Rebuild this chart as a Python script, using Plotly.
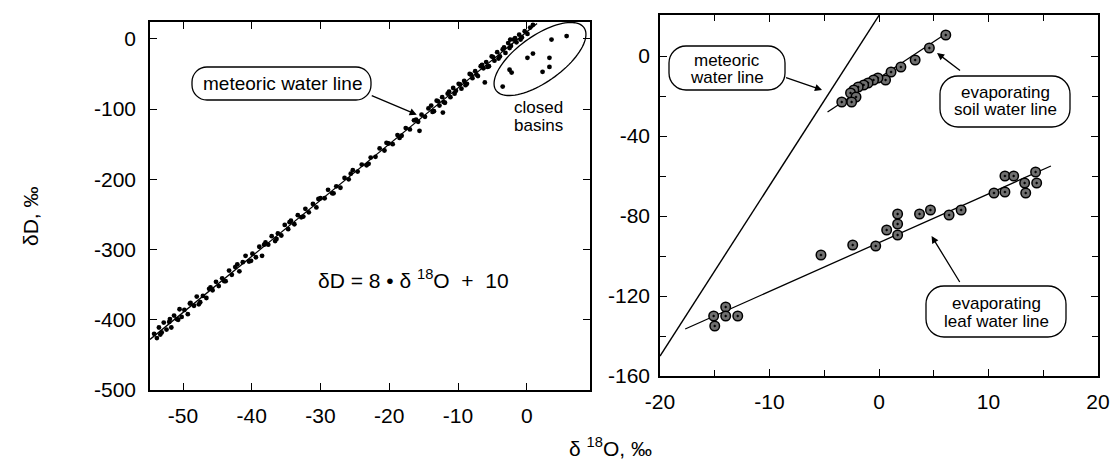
import math
import plotly.graph_objects as go

W, H = 1112, 461
FONT = "Liberation Sans, Arial, Helvetica, sans-serif"

# ---------------- data: left panel (global meteoric water line) ----------------
left_line_x = [-54.8, 1.5]
left_line_y = [-428, 22]

left_pts_x = [
    -54.2, -53.8, -53.5, -53.1, -52.8, -52.4, -52.0, -51.7, -51.3, -50.9, -50.5, -50.2, -49.8,
    -49.3, -48.9, -48.4, -48.0, -47.5, -47.1, -46.6, -46.2, -45.7, -45.2, -44.8, -44.3,
    -43.8, -43.3, -42.9, -42.4, -41.8, -41.3, -40.9, -40.4, -39.9, -39.4, -38.9, -38.5, -38.0,
    -37.6, -37.1, -36.6, -36.2, -35.7, -35.2, -34.7, -34.3,
    -33.8, -33.3, -32.8, -32.2, -31.7, -31.1, -30.6, -30.0, -29.4, -28.9, -28.3, -27.7, -27.1,
    -26.5, -25.9, -25.3, -24.6, -24.0,
    -23.3, -22.7, -22.0, -21.4, -20.7, -20.1, -19.5, -18.8, -18.2, -17.6, -17.0, -16.4, -15.8,
    -15.3, -14.8, -14.3,
    -13.9, -13.5, -13.1, -12.7, -12.3, -11.9, -11.5, -11.1, -10.7, -10.3, -9.9, -9.5, -9.1,
    -8.7, -8.3, -7.9, -7.5, -7.1, -6.7, -6.3, -5.9, -5.5, -5.1, -4.7, -4.3, -3.9, -3.5, -3.1,
    -2.7, -2.3, -1.9, -1.5, -1.1, -0.7, -0.3, 0.1, 0.5, 0.9,
    -13.7, -12.9, -12.1, -11.3, -10.5, -9.7, -8.9, -8.1, -7.3, -6.5, -5.7, -4.9, -4.1, -3.3,
    -2.5, -1.7, -0.9,
    -53.3, -51.9, -50.7, -49.0, -47.7, -46.0, -44.0, -42.1, -40.1, -38.2, -36.4, -34.5, -32.5,
    -30.3, -28.1, -25.6, -23.0, -20.4, -18.5, -16.1,
]
left_pts_y = [
    -420, -426, -411, -418, -404, -414, -403, -411, -394, -399, -385, -396, -386,
    -392, -376, -380, -367, -375, -366, -369, -356, -358, -346, -352, -341,
    -345, -330, -336, -325, -331, -318, -309, -317, -306, -311, -296, -309, -290,
    -293, -281, -288, -277, -280, -265, -271, -259,
    -264, -251, -254, -242, -247, -235, -240, -227, -227, -215, -220, -210, -212,
    -198, -200, -187, -189, -179,
    -180, -169, -168, -156, -159, -149, -150, -137, -138, -127, -129, -116, -118,
    -108, -111, -99,
    -95, -103, -88, -95, -83, -91, -78, -83, -70, -74, -64, -71, -60,
    -64, -50, -56, -46, -53, -39, -42, -33, -39, -25, -31, -19, -25, -15, -20,
    -6, -10, -1, -5, 6, 2, 11, 7, 16, 20,
    -104, -89, -90, -75, -78, -65, -66, -51, -51, -37, -40, -26, -28, -12,
    -13, 1, -1,
    -421, -399, -400, -377, -378, -354, -345, -321, -316, -293, -285, -261, -253,
    -228, -220, -192, -178, -148, -141, -115,
]
off_line_x = [-12.2, -15.6, -2.4]
off_line_y = [-105, -131, -1]

closed_basin_x = [3.6, 0.9, 0.1, 3.3, 3.3, 2.3, -2.5, -2.2, -3.5, -6.1, 5.8]
closed_basin_y = [-1, -21, -27, -27, -40, -47, -44, -48, -68, -62, 4]

# ---------------- data: right panel (evaporation lines) ----------------
right_mwl_x = [-20, 0.2]
right_mwl_y = [-150, 22]

soil_x = [6.1, 4.6, 3.3, 2.0, 1.1, 0.6, -0.1, -0.5, -1.0, -1.4, -1.9, -2.3, -2.6, -2.1, -2.5, -3.4]
soil_y = [10.5, 4, -2, -5.5, -8, -12, -11, -12, -13.5, -14.5, -15.5, -17, -18.5, -20.5, -23, -23]
soil_line_x = [-4.7, 6.2]
soil_line_y = [-28, 11.5]

leaf_x = [-15.1, -15.0, -14.0, -14.0, -12.9, -5.3, -2.4, -0.3, 0.7, 1.7, 1.7, 1.7, 3.7, 4.7,
          6.4, 7.5, 10.5, 11.5, 11.5, 12.3, 13.4, 13.3, 14.3, 14.4]
leaf_y = [-130, -135, -125.5, -130, -130, -99.5, -94.5, -95, -87, -79, -84, -89.5, -79, -77,
          -79.5, -77, -68.5, -68, -60, -60, -68.5, -63.5, -58, -63.5]
leaf_line_x = [-17.7, 15.7]
leaf_line_y = [-136.5, -55]

# ---------------- tick labels ----------------
left_xtick_vals = [-50, -40, -30, -20, -10, 0]
left_xtick_text = ["-50", "-40", "-30", "-20", "-10", "0"]
left_ytick_vals = [0, -100, -200, -300, -400, -500]
left_ytick_text = ["0", "-100", "-200", "-300", "-400", "-500"]
right_xtick_vals = [-20, -10, 0, 10, 20]
right_xtick_text = ["-20", "-10", "0", "10", "20"]
right_ytick_vals = [0, -40, -80, -120, -160]
right_ytick_text = ["0", "-40", "-80", "-120", "-160"]


# ---------------- helpers (pixel -> paper) ----------------
def pp(px, py):
    return px / W, 1 - py / H


def pill_path(x0, y0, x1, y1, r):
    k = 0.5523
    pts = [
        ("M", [(x0 + r, y0)]),
        ("L", [(x1 - r, y0)]),
        ("C", [(x1 - r + k * r, y0), (x1, y0 + r - k * r), (x1, y0 + r)]),
        ("L", [(x1, y1 - r)]),
        ("C", [(x1, y1 - r + k * r), (x1 - r + k * r, y1), (x1 - r, y1)]),
        ("L", [(x0 + r, y1)]),
        ("C", [(x0 + r - k * r, y1), (x0, y1 - r + k * r), (x0, y1 - r)]),
        ("L", [(x0, y0 + r)]),
        ("C", [(x0, y0 + r - k * r), (x0 + r - k * r, y0), (x0 + r, y0)]),
    ]
    s = []
    for cmd, ps in pts:
        coords = " ".join("%.5f,%.5f" % pp(a, b) for a, b in ps)
        s.append(cmd + coords)
    return " ".join(s) + " Z"


def ellipse_path(cx, cy, a, b, ang_deg, n=90):
    t = math.radians(ang_deg)
    parts = []
    for i in range(n):
        th = 2 * math.pi * i / n
        ex, ey = a * math.cos(th), b * math.sin(th)
        px = cx + ex * math.cos(t) + ey * math.sin(t)
        py = cy - ex * math.sin(t) + ey * math.cos(t)
        X, Y = pp(px, py)
        parts.append(("M" if i == 0 else "L") + "%.5f,%.5f" % (X, Y))
    return " ".join(parts) + " Z"


fig = go.Figure()

dot = dict(color="black", size=4.8)
fig.add_trace(go.Scatter(x=left_line_x, y=left_line_y, mode="lines",
                         line=dict(color="black", width=1.3), xaxis="x", yaxis="y"))
fig.add_trace(go.Scatter(x=left_pts_x, y=left_pts_y, mode="markers", marker=dot,
                         xaxis="x", yaxis="y"))
fig.add_trace(go.Scatter(x=off_line_x, y=off_line_y, mode="markers", marker=dot,
                         xaxis="x", yaxis="y"))
fig.add_trace(go.Scatter(x=closed_basin_x, y=closed_basin_y, mode="markers", marker=dot,
                         xaxis="x", yaxis="y"))

ring = dict(symbol="circle-dot", size=9.5, color="#707070", line=dict(color="black", width=1.5))
fig.add_trace(go.Scatter(x=right_mwl_x, y=right_mwl_y, mode="lines",
                         line=dict(color="black", width=1.4), xaxis="x2", yaxis="y2"))
fig.add_trace(go.Scatter(x=soil_line_x, y=soil_line_y, mode="lines",
                         line=dict(color="black", width=1.3), xaxis="x2", yaxis="y2"))
fig.add_trace(go.Scatter(x=leaf_line_x, y=leaf_line_y, mode="lines",
                         line=dict(color="black", width=1.3), xaxis="x2", yaxis="y2"))
fig.add_trace(go.Scatter(x=soil_x, y=soil_y, mode="markers", marker=ring, xaxis="x2", yaxis="y2"))
fig.add_trace(go.Scatter(x=leaf_x, y=leaf_y, mode="markers", marker=ring, xaxis="x2", yaxis="y2"))

axis_common = dict(showgrid=False, zeroline=False, showline=True, linecolor="black", linewidth=1.5,
                   mirror="ticks", ticks="inside", ticklen=7, tickwidth=1.3, tickcolor="black",
                   tickfont=dict(family=FONT, size=21, color="black"), tickmode="array",
                   automargin=False)

shapes = [
    dict(type="path", path=pill_path(192, 67, 371, 100, 15), xref="paper", yref="paper",
         line=dict(color="black", width=1.3)),
    dict(type="path", path=ellipse_path(540, 59, 54, 23, 35.5), xref="paper", yref="paper",
         line=dict(color="black", width=1.3)),
    dict(type="path", path=pill_path(669, 46, 785, 90, 17), xref="paper", yref="paper",
         line=dict(color="black", width=1.3)),
    dict(type="path", path=pill_path(940, 76, 1070, 127, 18), xref="paper", yref="paper",
         line=dict(color="black", width=1.3)),
    dict(type="path", path=pill_path(926, 286, 1066, 337, 18), xref="paper", yref="paper",
         line=dict(color="black", width=1.3)),
]


def txt(px, py, s, size=18):
    X, Y = pp(px, py)
    return dict(x=X, y=Y, xref="paper", yref="paper", text=s, showarrow=False,
                xanchor="center", yanchor="middle",
                font=dict(family=FONT, size=size, color="black"))


def arrow(x, y, ax, ay, xr, yr):
    return dict(x=x, y=y, xref=xr, yref=yr, ax=ax, ay=ay, text=" ", showarrow=True,
                arrowhead=2, arrowsize=1.1, arrowwidth=1.3, arrowcolor="black", standoff=0,
                font=dict(size=2))


annotations = [
    txt(282, 84, "meteoric water line", 19),
    txt(538, 107, "closed", 17),
    txt(538, 125, "basins", 17),
    txt(413, 279, "δD = 8 • δ <sup>18</sup>O \u00a0+ \u00a010", 21),
    txt(727, 60, "meteoric", 17),
    txt(727, 77, "water line", 17),
    txt(1005, 93, "evaporating", 17),
    txt(1005, 110, "soil water line", 17),
    txt(996, 303, "evaporating", 17),
    txt(996, 321, "leaf water line", 17),
    dict(x=30 / W, y=1 - 216 / H, xref="paper", yref="paper", text="δD, ‰", showarrow=False,
         textangle=-90, xanchor="center", yanchor="middle",
         font=dict(family=FONT, size=21, color="black")),
    txt(610, 447, "δ <sup>18</sup>O, ‰", 21),
    arrow(-16, -108, -47, -20, "x", "y"),
    arrow(-5.2, -17, -38, -13, "x2", "y2"),
    arrow(5.3, 1.5, 25, 19, "x2", "y2"),
    arrow(4.8, -90, 30, 49, "x2", "y2"),
]

fig.update_layout(
    width=W, height=H, margin=dict(l=0, r=0, t=0, b=0),
    paper_bgcolor="white", plot_bgcolor="white", showlegend=False,
    xaxis=dict(domain=[150 / W, 590 / W], range=[-54.8, 9.2], anchor="y",
               tickvals=left_xtick_vals, ticktext=left_xtick_text, ticklabelstandoff=6, **axis_common),
    yaxis=dict(domain=[1 - 390 / H, 1 - 22 / H], range=[-500, 24], anchor="x",
               tickvals=left_ytick_vals, ticktext=left_ytick_text, ticklabelstandoff=8, **axis_common),
    xaxis2=dict(domain=[660 / W, 1098 / W], range=[-20, 20], anchor="y2",
                tickvals=right_xtick_vals, ticktext=right_xtick_text, ticklabelstandoff=6,
                minor=dict(ticks="inside", dtick=5, tick0=0, ticklen=6, tickcolor="black", tickwidth=1.3),
                **axis_common),
    yaxis2=dict(domain=[1 - 376 / H, 1 - 15 / H], range=[-160, 20.5], anchor="x2",
                tickvals=right_ytick_vals, ticktext=right_ytick_text, ticklabelstandoff=4,
                minor=dict(ticks="inside", dtick=20, tick0=0, ticklen=6, tickcolor="black", tickwidth=1.3),
                **axis_common),
    shapes=shapes,
    annotations=annotations,
)

fig.write_html(
    "out.html",
    config={"displayModeBar": False},
    post_script="document.body.style.margin='0px';document.body.style.overflow='hidden';",
)
